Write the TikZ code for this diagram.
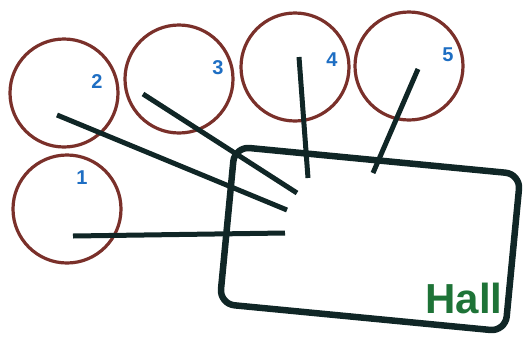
\documentclass[tikz,border=0pt]{standalone}
\usepackage{fontspec}
\setmainfont{Liberation Sans}
\usepackage{tikz}
\usetikzlibrary{positioning, calc}
\definecolor{rbrown}{RGB}{122,48,42}
\definecolor{lblue}{RGB}{30,110,195}
\definecolor{hgreen}{RGB}{30,115,55}
\definecolor{dink}{RGB}{16,38,38}

\begin{document}
\begin{tikzpicture}[x=1pt, y=-1pt,
    room/.style={circle, draw=rbrown, line width=3.2pt, minimum size=108pt, inner sep=0pt},
    num/.style={text=lblue, inner sep=0pt, font=\bfseries\fontsize{20}{20}\selectfont},
    link/.style={draw=dink, line width=5pt}]
      \useasboundingbox (0,0) rectangle (523,341);
      % Rooms
      \node[room] (c1) at (67,209) {};
      \node[room] (c2) at (64,93) {};
      \node[room] (c3) at (179,79) {};
      \node[room] (c4) at (295,67) {};
      \node[room] (c5) at (409,66) {};
      \node[num] (n1) at (82,178) {1};
      \node[num] (n2) at (97,82) {2};
      \node[num] (n3) at (218,68) {3};
      \node[num] (n4) at (332,60) {4};
      \node[num] (n5) at (448,55) {5};
      % Hall
      \node[draw=dink, line width=6.5pt, rounded corners=15pt, minimum width=287pt, minimum height=158pt, rotate=-5.5] (hall) at (370,239) {};
      \node[text=hgreen, inner sep=0pt, font=\bfseries\fontsize{42}{42}\selectfont] (hlab) at (464,298) {Hall};
      % Links
      \draw[link] ($(c1)+(6,27)$) -- ($(hall)+(-85,-6)$);
      \draw[link] ($(c2)+(-7,22)$) -- ($(hall)+(-83,-29)$);
      \draw[link] ($(c3)+(-36,15)$) -- ($(hall)+(-73,-46)$);
      \draw[link] ($(c4)+(4,-10)$) -- ($(hall)+(-62,-61)$);
      \draw[link] ($(c5)+(9,3)$) -- ($(hall)+(3,-66)$);
\end{tikzpicture}
\end{document}
